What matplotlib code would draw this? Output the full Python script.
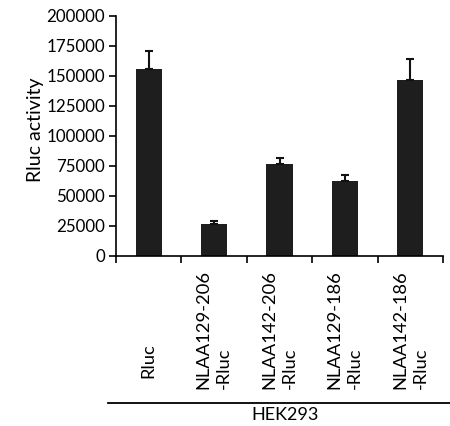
import matplotlib
matplotlib.use("Agg")
import matplotlib.pyplot as plt
from matplotlib.lines import Line2D
import numpy as np

categories = ["Rluc", "NLAA129-206\n-Rluc", "NLAA142-206\n-Rluc", "NLAA129-186\n-Rluc", "NLAA142-186\n-Rluc"]
values = [155800, 26400, 76400, 62800, 147000]
errors = [15200, 3000, 5500, 5000, 17000]
yticks = [0, 25000, 50000, 75000, 100000, 125000, 150000, 175000, 200000]
group_label = "HEK293"
ylabel = "Rluc activity"

plt.rcParams['font.family'] = ['Lato', 'DejaVu Sans']

W, H = 450, 426
fig = plt.figure(figsize=(W/100, H/100), dpi=100)
ax = fig.add_axes([116/W, 1-256/H, (443-116)/W, (256-16)/H])

x = np.arange(len(categories))
ax.bar(x, values, width=0.4, color='#1e1e1e', zorder=2)
ax.errorbar(x, values, yerr=[np.zeros(len(errors)), errors], fmt='none',
            ecolor='#111111', elinewidth=1.5, capsize=3, capthick=1.5, zorder=3)

ax.set_xlim(-0.5, len(categories)-0.5)
ax.set_ylim(0, 200000)
ax.set_yticks(yticks)
ax.set_yticklabels([str(v) for v in yticks], fontsize=12.2)
ax.set_xticks(np.arange(len(categories)+1)-0.5)
ax.set_xticklabels([])
ax.tick_params(axis='y', direction='out', length=5, width=1.2, pad=3)
ax.tick_params(axis='x', direction='out', length=5, width=1.2)
for s in ['top', 'right']:
    ax.spines[s].set_visible(False)
for s in ['left', 'bottom']:
    ax.spines[s].set_linewidth(1.2)
ax.set_ylabel(ylabel, fontsize=14)
ax.yaxis.set_label_coords((44 - 116) / (443 - 116), 0.525)

# category labels (rotated)
for xi, lab in zip(x, categories):
    ypix = 389 if '\n' in lab else 378
    xd = ax.transData.transform((xi, 0))[0]
    fig.text(xd/W, 1-ypix/H, lab, rotation=90, ha='center', va='bottom',
             multialignment='left', fontsize=13.2, linespacing=1.35)

fig.add_artist(Line2D([108/W, 1.0], [1-403/H, 1-403/H], color='black', lw=1.3,
                      transform=fig.transFigure))
fig.text(285/W, 1-415/H, group_label, ha='center', va='center', fontsize=13)

fig.savefig("out.png", dpi=100)
